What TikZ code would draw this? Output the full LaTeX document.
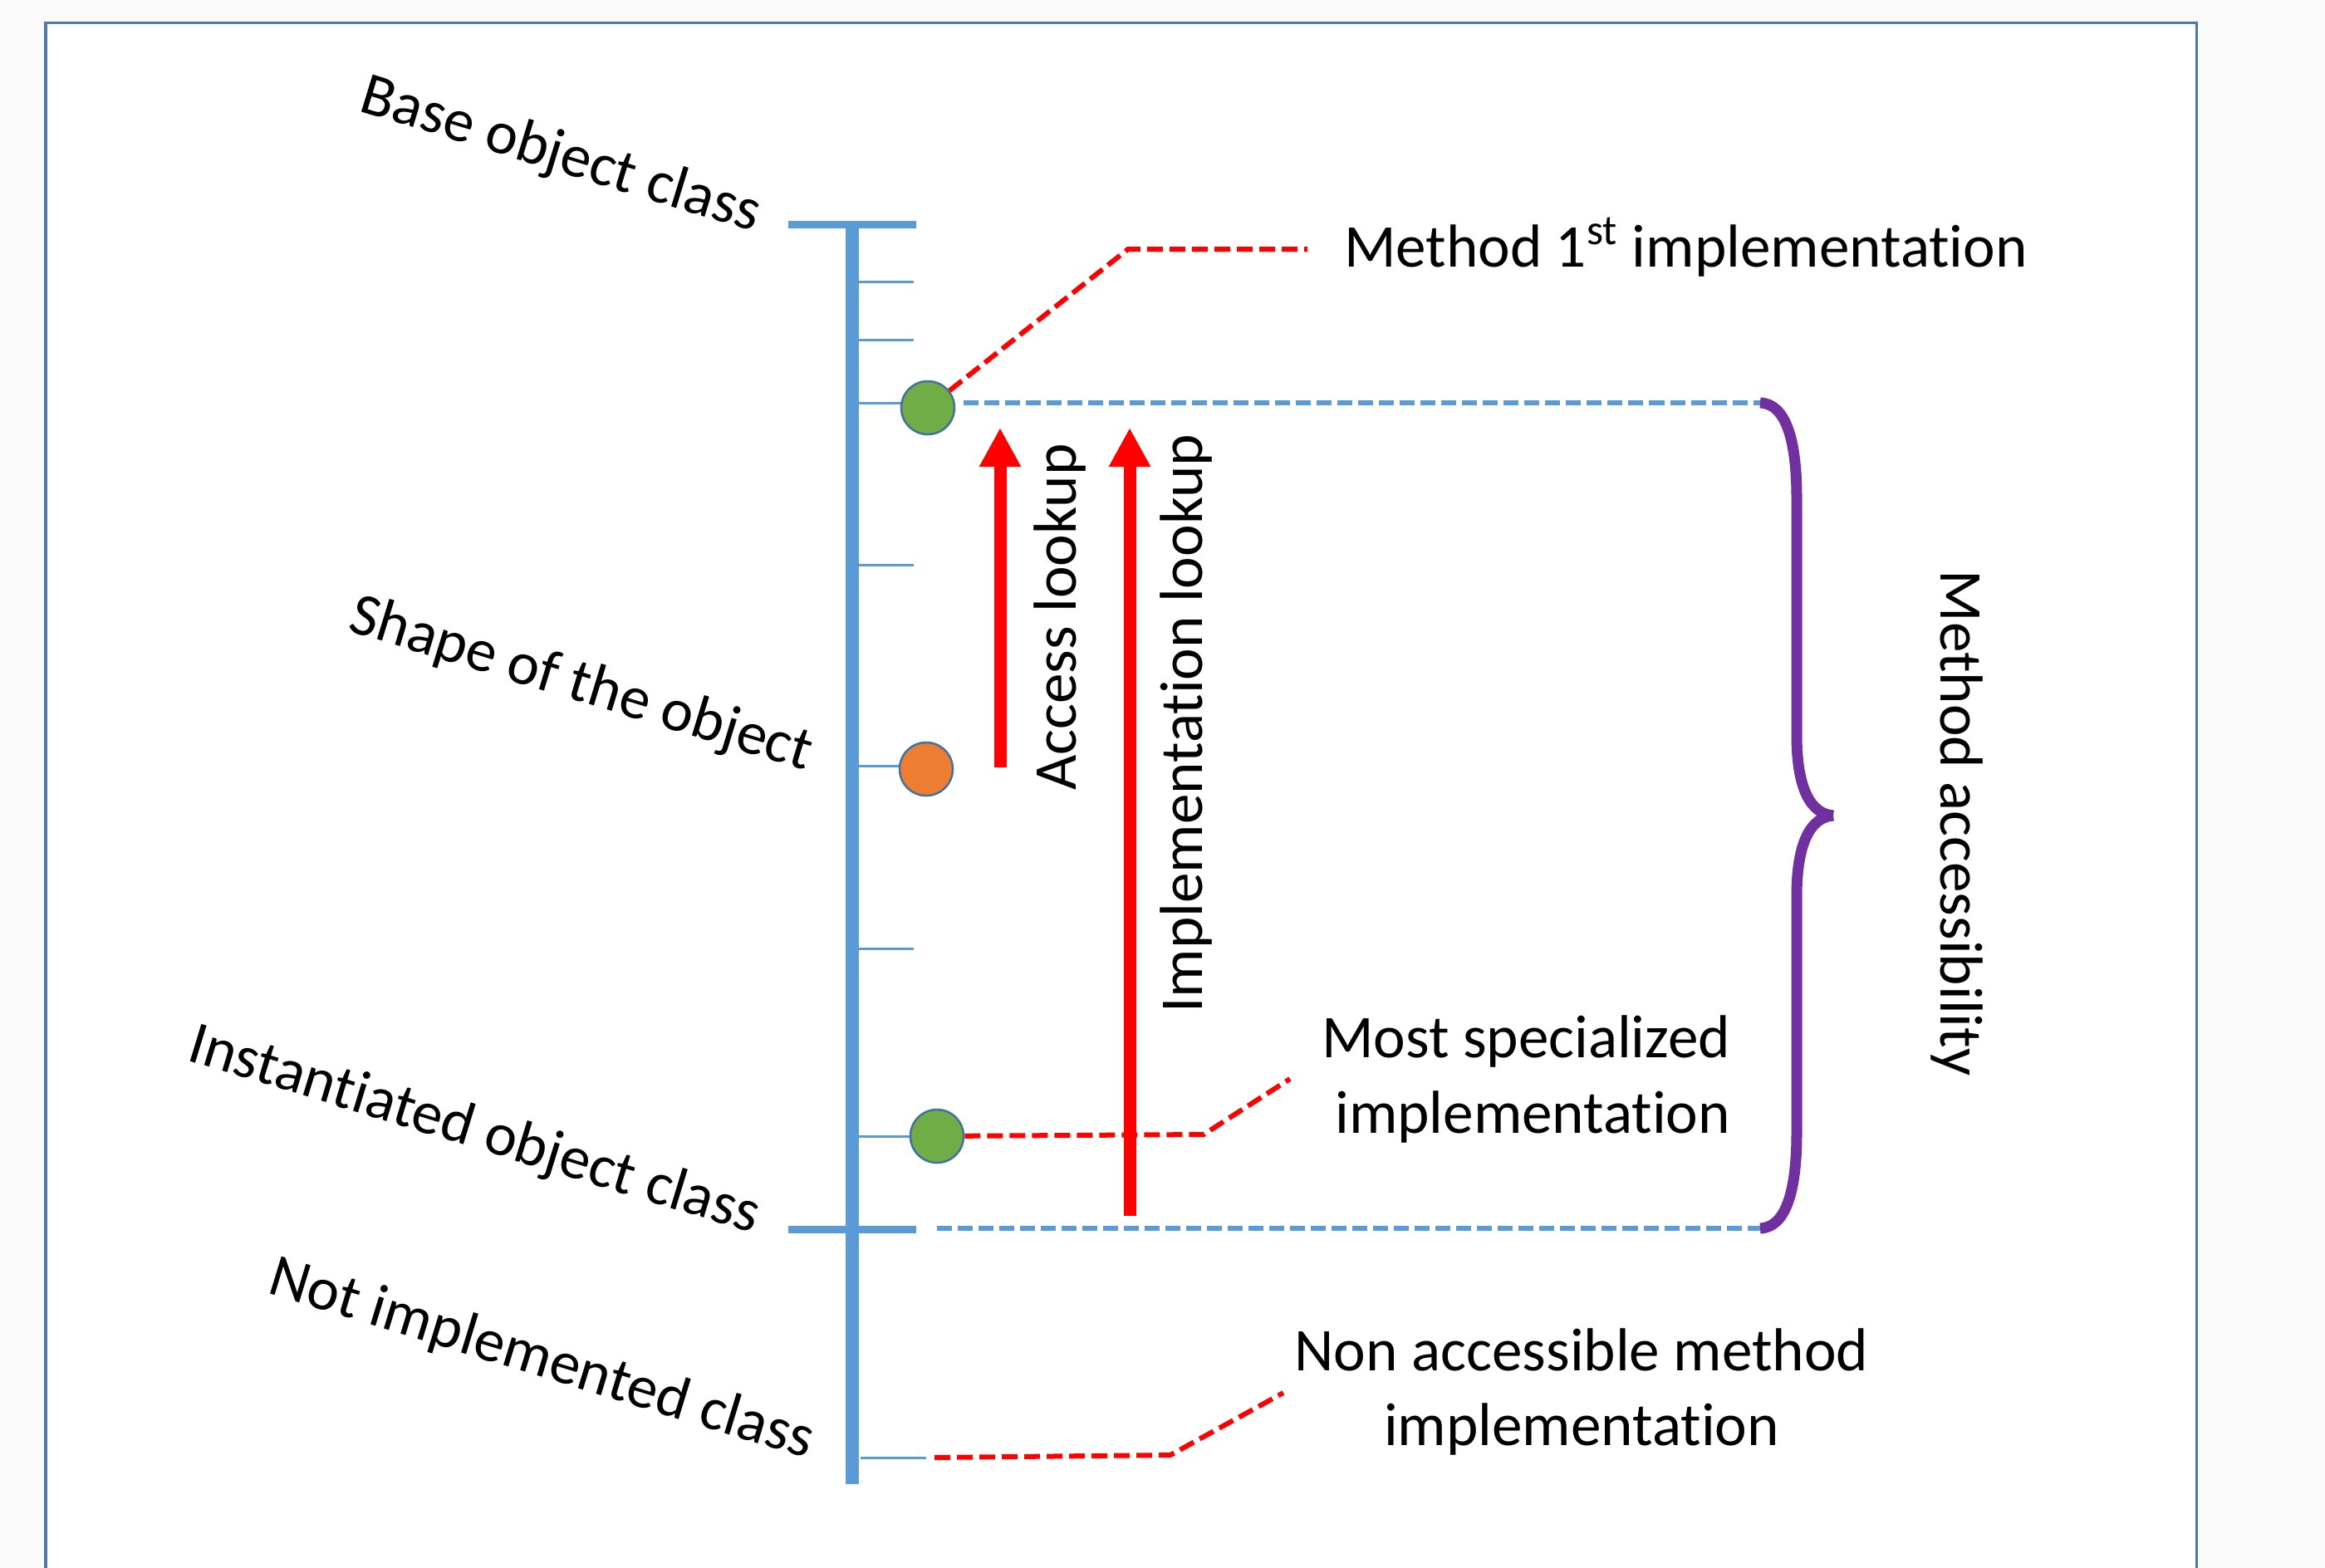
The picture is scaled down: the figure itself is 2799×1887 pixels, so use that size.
\documentclass[tikz,border=0pt]{standalone}
\usepackage{fontspec}
\setmainfont{Carlito}[Ligatures=NoCommon]
\usetikzlibrary{arrows.meta}

\definecolor{axisblue}{RGB}{91,155,213}
\definecolor{ringblue}{RGB}{65,113,156}
\definecolor{framecol}{RGB}{80,120,170}
\definecolor{okgreen}{RGB}{112,173,71}
\definecolor{shapeorange}{RGB}{237,125,49}
\definecolor{bracepurple}{RGB}{112,48,160}
\definecolor{pagegray}{RGB}{250,250,250}

\newcommand\lblfont{\fontsize{20.8pt}{25.6pt}\selectfont}

\begin{document}
\begin{tikzpicture}[x=0.01cm,y=-0.01cm,
  lbl/.style={font=\lblfont, inner sep=0pt, outer sep=0pt},
  classbar/.style={axisblue, line width=0.09cm},
  tick/.style={axisblue, line width=0.03cm},
  dot/.style={circle, draw=ringblue, line width=0.025cm, minimum size=0.64cm, inner sep=0pt},
  callout/.style={red, line width=0.06cm, dash pattern=on 0.19cm off 0.08cm},
  rangeline/.style={axisblue, line width=0.06cm, dash pattern=on 0.18cm off 0.07cm},
  lookup/.style={red, line width=0.15cm, -{Triangle[length=0.47cm, width=0.47cm]}},
  brace/.style={bracepurple, line width=0.13cm, line cap=butt}
]
% page and frame
\fill[pagegray] (0,0) rectangle (2799,1887);
\useasboundingbox (0,0) rectangle (2799,1887);
\fill[white] (55,27) rectangle (2644,1900);
\draw[framecol, line width=0.03cm] (55,1900) -- (55,27) -- (2644,27) -- (2644,1900);

% class hierarchy axis
\draw[axisblue, line width=0.16cm] (1026,266) -- (1026,1787);
\draw[classbar] (949,270) -- (1103,270);
\draw[classbar] (949,1480) -- (1103,1480);
\foreach \ty in {339,409,485,680,922,1142,1368}
  \draw[tick] (1034,\ty) -- (1100,\ty);
\draw[tick] (1036,1755) -- (1115,1755);

% class labels
\node[lbl, rotate=-17, anchor=base east] (lbase) at (908,279) {Base object class};
\node[lbl, rotate=-17, anchor=base east] (lshape) at (970,928) {Shape of the object};
\node[lbl, rotate=-17, anchor=base east] (linst) at (907,1485) {Instantiated object class};
\node[lbl, rotate=-17, anchor=base east] (lnot) at (972,1756) {Not implemented class};

% implementations
\node[dot, fill=okgreen] (first) at (1117,491) {};
\node[dot, fill=shapeorange] (shape) at (1115,926) {};
\node[dot, fill=okgreen] (special) at (1128,1368) {};

% accessibility range
\coordinate (rtop0) at (1160,485);
\coordinate (rtop1) at (2119,485);
\coordinate (rbot0) at (1128,1479);
\coordinate (rbot1) at (2119,1479);
\draw[rangeline] (rtop0) -- (rtop1);
\draw[rangeline] (rbot0) -- (rbot1);

\coordinate (tip) at (2207,982);
\draw[brace] (rtop1) .. controls (2150,486) and (2163,530) .. (2163,600)
  -- (2163,885) .. controls (2163,950) and (2180,980) .. (tip);
\draw[brace] (rbot1) .. controls (2150,1478) and (2163,1434) .. (2163,1364)
  -- (2163,1079) .. controls (2163,1014) and (2180,984) .. (tip);
\node[lbl, rotate=-90, anchor=base] (access) at (2336,991) {Method accessibility};

% lookups
\coordinate (a0) at (1204,924);
\coordinate (a1) at (1204,515);
\coordinate (i0) at (1360,1464);
\coordinate (i1) at (1360,515);
\draw[lookup] (a0) -- (a1);
\draw[lookup] (i0) -- (i1);
\node[lbl, rotate=90, anchor=base] (alook) at (1295,743) {Access lookup};
\node[lbl, rotate=90, anchor=base] (ilook) at (1447,871) {Implementation lookup};

% callouts (multi-line nodes sit on the baseline of their last line)
\node[lbl, anchor=base west] (tfirst) at (1618,321) {Method 1\textsuperscript{st} implementation};
\coordinate (k1) at (1358,300);
\coordinate (e1) at (1574,300);
\draw[callout] (first) -- (k1) -- (e1);

\node[lbl, align=right, anchor=base east] (tspecial) at (2083,1364) {Most specialized\\implementation};
\coordinate (k2) at (1449,1366);
\coordinate (e2) at (1553,1299);
\draw[callout] (special) -- (k2) -- (e2);

\node[lbl, align=center, anchor=base] (tnone) at (1904,1740) {Non accessible method\\implementation};
\coordinate (s3) at (1125,1755);
\coordinate (k3) at (1409,1752);
\coordinate (e3) at (1545,1677);
\draw[callout] (s3) -- (k3) -- (e3);
\end{tikzpicture}
\end{document}
